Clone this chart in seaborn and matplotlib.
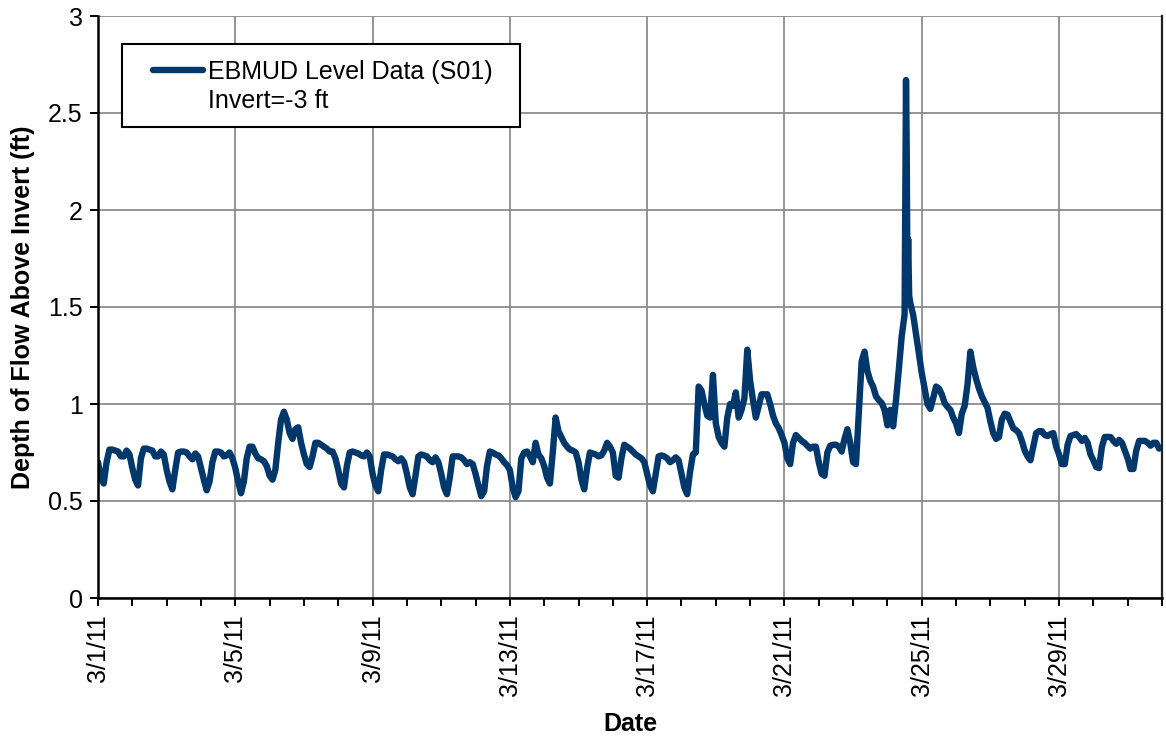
import numpy as np
import pandas as pd
import matplotlib
matplotlib.use("Agg")
import matplotlib.pyplot as plt
import matplotlib.dates as mdates
from matplotlib.patches import Rectangle
from matplotlib.ticker import FuncFormatter, FixedLocator
import seaborn as sns

# Depth of flow above invert (ft), logged every 2 hours starting 3/1/2011 00:00.
# One row per day: 00:00, 02:00, ..., 22:00
depth_2h = [
    [0.70, 0.62, 0.59, 0.70, 0.765, 0.765, 0.76, 0.755, 0.73, 0.73, 0.76, 0.74],   # 3/1
    [0.67, 0.61, 0.58, 0.72, 0.77, 0.77, 0.765, 0.76, 0.73, 0.73, 0.755, 0.74],    # 3/2
    [0.66, 0.60, 0.56, 0.66, 0.75, 0.755, 0.755, 0.75, 0.73, 0.715, 0.745, 0.73],  # 3/3
    [0.67, 0.61, 0.555, 0.60, 0.70, 0.755, 0.755, 0.75, 0.73, 0.735, 0.75, 0.72],  # 3/4
    [0.67, 0.60, 0.54, 0.60, 0.72, 0.78, 0.78, 0.745, 0.72, 0.715, 0.705, 0.68],   # 3/5
    [0.63, 0.61, 0.66, 0.80, 0.92, 0.96, 0.92, 0.85, 0.82, 0.87, 0.88, 0.80],      # 3/6
    [0.74, 0.69, 0.675, 0.73, 0.80, 0.80, 0.79, 0.78, 0.77, 0.755, 0.755, 0.72],   # 3/7
    [0.66, 0.59, 0.57, 0.68, 0.75, 0.755, 0.75, 0.745, 0.735, 0.73, 0.75, 0.73],   # 3/8
    [0.64, 0.58, 0.55, 0.66, 0.74, 0.74, 0.735, 0.73, 0.715, 0.705, 0.72, 0.70],   # 3/9
    [0.64, 0.57, 0.535, 0.63, 0.73, 0.74, 0.735, 0.73, 0.71, 0.70, 0.725, 0.70],   # 3/10
    [0.64, 0.57, 0.535, 0.62, 0.73, 0.73, 0.73, 0.725, 0.71, 0.69, 0.70, 0.69],    # 3/11
    [0.64, 0.58, 0.525, 0.55, 0.68, 0.755, 0.75, 0.74, 0.735, 0.72, 0.70, 0.685],  # 3/12
    [0.66, 0.57, 0.52, 0.55, 0.72, 0.75, 0.755, 0.73, 0.70, 0.80, 0.74, 0.72],     # 3/13
    [0.68, 0.62, 0.59, 0.75, 0.93, 0.86, 0.83, 0.80, 0.78, 0.765, 0.76, 0.75],     # 3/14
    [0.70, 0.61, 0.56, 0.67, 0.75, 0.745, 0.74, 0.73, 0.735, 0.76, 0.80, 0.78],    # 3/15
    [0.75, 0.63, 0.62, 0.72, 0.79, 0.78, 0.77, 0.755, 0.74, 0.73, 0.72, 0.70],     # 3/16
    [0.64, 0.58, 0.55, 0.64, 0.73, 0.735, 0.73, 0.72, 0.70, 0.71, 0.725, 0.71],    # 3/17
    [0.64, 0.57, 0.535, 0.65, 0.74, 0.75, 1.09, 1.07, 1.00, 0.94, 0.93, 1.15],     # 3/18
    [0.90, 0.83, 0.80, 0.78, 0.93, 1.00, 0.99, 1.06, 0.93, 0.97, 1.03, 1.28],      # 3/19
    [1.12, 1.02, 0.93, 0.99, 1.05, 1.05, 1.05, 1.00, 0.94, 0.90, 0.876, 0.84],     # 3/20
    [0.80, 0.72, 0.69, 0.80, 0.84, 0.825, 0.81, 0.80, 0.785, 0.77, 0.78, 0.78],    # 3/21
    [0.70, 0.64, 0.63, 0.75, 0.785, 0.79, 0.79, 0.78, 0.755, 0.82, 0.87, 0.80],    # 3/22
    [0.70, 0.69, 0.95, 1.22, 1.27, 1.17, 1.12, 1.09, 1.04, 1.02, 1.005, 0.97],     # 3/23
    [0.89, 0.97, 0.885, 1.02, 1.18, 1.35, 1.46, 1.62, 1.52, 1.46, 1.36, 1.26],     # 3/24
    [1.16, 1.08, 1.00, 0.975, 1.03, 1.09, 1.08, 1.05, 1.005, 0.985, 0.97, 0.93],   # 3/25
    [0.90, 0.85, 0.95, 0.99, 1.10, 1.27, 1.19, 1.13, 1.08, 1.04, 1.01, 0.98],      # 3/26
    [0.91, 0.85, 0.82, 0.83, 0.92, 0.95, 0.945, 0.91, 0.875, 0.865, 0.85, 0.81],   # 3/27
    [0.76, 0.73, 0.71, 0.78, 0.85, 0.86, 0.86, 0.84, 0.835, 0.845, 0.85, 0.78],    # 3/28
    [0.74, 0.69, 0.69, 0.79, 0.835, 0.84, 0.845, 0.83, 0.81, 0.825, 0.80, 0.74],   # 3/29
    [0.71, 0.675, 0.67, 0.78, 0.83, 0.83, 0.83, 0.81, 0.795, 0.815, 0.80, 0.76],   # 3/30
    [0.72, 0.665, 0.665, 0.76, 0.81, 0.81, 0.81, 0.80, 0.785, 0.80, 0.80, 0.77],   # 3/31
]

# Extra readings captured during the 3/24 storm peak (hour of day, depth ft)
storm_date = "2011-03-24"
storm_hour = [13.0, 13.5, 14.5, 15.2]
storm_depth = [2.67, 2.30, 1.85, 1.56]

series_name = "EBMUD Level Data (S01)"
series_note = "Invert=-3 ft"
x_label = "Date"
y_label = "Depth of Flow Above Invert (ft)"
y_ticks = [0, 0.5, 1, 1.5, 2, 2.5, 3]
x_tick_dates = ["2011-03-01", "2011-03-05", "2011-03-09", "2011-03-13",
                "2011-03-17", "2011-03-21", "2011-03-25", "2011-03-29"]

# Assemble the time series
start = pd.Timestamp("2011-03-01")
base_vals = np.array(depth_2h).ravel()
base_time = start + pd.to_timedelta(np.arange(base_vals.size) * 2, unit="h")
storm_time = pd.Timestamp(storm_date) + pd.to_timedelta(storm_hour, unit="h")
df = pd.DataFrame({
    "time": np.concatenate([base_time.values, storm_time.values]),
    "depth": np.concatenate([base_vals, storm_depth]),
}).sort_values("time").reset_index(drop=True)

# Styling
sns.set_theme(style="white")
plt.rcParams["font.family"] = ["Liberation Sans", "DejaVu Sans"]
plt.rcParams["text.color"] = "black"
line_color = "#00386b"
grid_color = "#8c8c8c"
fs = 18
lw = 4.6

fig = plt.figure(figsize=(11.66, 7.38), dpi=100)
ax = fig.add_axes([98 / 1166, 1 - 598 / 738, (1162 - 98) / 1166, (598 - 16) / 738])

sns.lineplot(data=df, x="time", y="depth", ax=ax, color=line_color,
             linewidth=lw, estimator=None, sort=False, legend=False)
for ln in ax.lines:
    ln.set_solid_joinstyle("round")
    ln.set_solid_capstyle("round")

ax.set_xlim(pd.Timestamp("2011-03-01"), pd.Timestamp("2011-04-01"))
ax.set_ylim(0, 3)

# Axes ticks
ax.xaxis.set_major_locator(FixedLocator(mdates.date2num(pd.to_datetime(x_tick_dates))))
ax.xaxis.set_minor_locator(mdates.DayLocator())
ax.xaxis.set_major_formatter(FuncFormatter(
    lambda v, p: (lambda d: f"{d.month}/{d.day}/{d.strftime('%y')}")(mdates.num2date(v))))
ax.set_yticks(y_ticks)
ax.yaxis.set_major_formatter(FuncFormatter(lambda v, p: f"{v:g}"))

ax.tick_params(axis="x", which="major", labelsize=fs, rotation=90, length=6, width=1.4,
               color="black", labelcolor="black", direction="out", pad=6, bottom=True)
ax.tick_params(axis="x", which="minor", length=6, width=1.4, color="black",
               direction="out", bottom=True)
ax.tick_params(axis="y", which="major", labelsize=fs, length=6, width=1.4,
               color="black", labelcolor="black", direction="out", pad=5, left=True)

ax.grid(True, which="major", color=grid_color, linewidth=1.3)
ax.set_axisbelow(True)

for side in ["left", "bottom"]:
    ax.spines[side].set_color("black")
    ax.spines[side].set_linewidth(1.8)
ax.spines["top"].set_visible(False)
ax.spines["right"].set_color("#222222")
ax.spines["right"].set_linewidth(1.6)

ax.set_xlabel(x_label, fontsize=fs, fontweight="bold", color="black")
ax.set_ylabel(y_label, fontsize=fs, fontweight="bold", color="black")
ax.xaxis.set_label_coords(0.5, -0.196)
ax.yaxis.set_label_coords(-0.059, 0.5)

# Legend box
frame = Rectangle(((122 - 98) / 1064, 1 - (127 - 16) / 582),
                  (520 - 122) / 1064, (127 - 44) / 582,
                  transform=ax.transAxes, facecolor="white", edgecolor="black",
                  linewidth=1.5, zorder=5)
ax.add_patch(frame)
handle = plt.Line2D([], [], color=line_color, linewidth=lw, solid_capstyle="round")
blank = plt.Line2D([], [], linestyle="none")
leg = ax.legend([handle, blank], [series_name, series_note], loc="upper left",
                bbox_to_anchor=((153 - 98) / 1064, 1 - (60 - 16) / 582),
                frameon=False, fontsize=fs, handlelength=2.0, handletextpad=0.2,
                borderpad=0, borderaxespad=0, labelspacing=0.22,
                labelcolor="black")
leg.set_zorder(6)

fig.savefig("out.png", dpi=100)
